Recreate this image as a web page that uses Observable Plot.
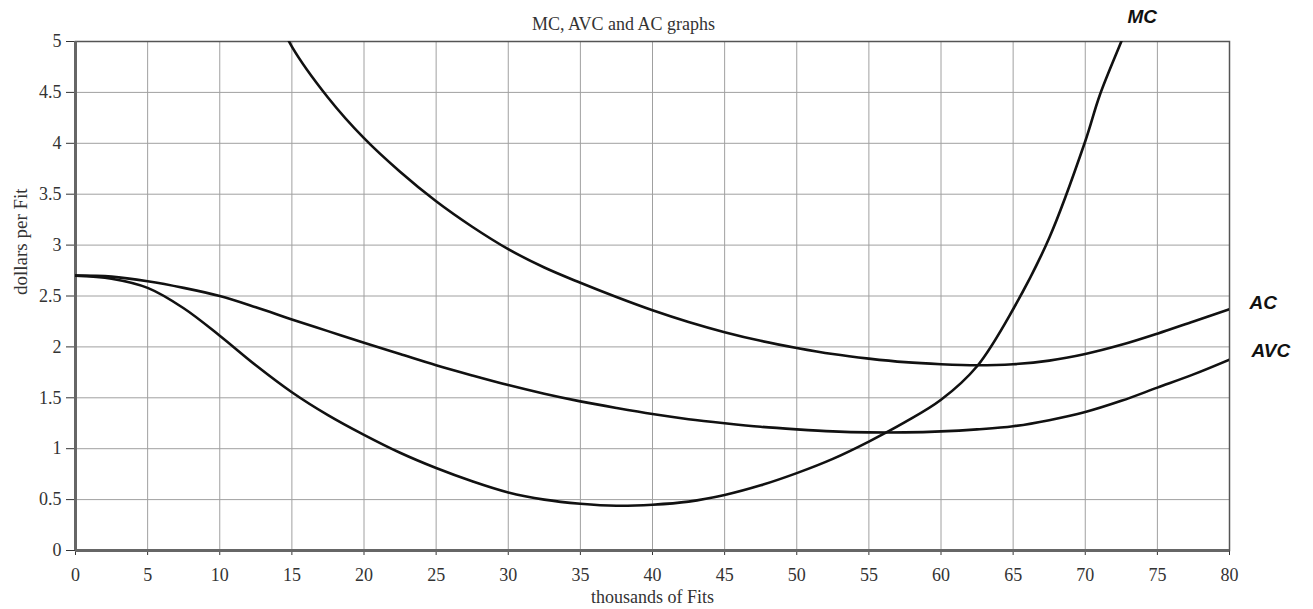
<!DOCTYPE html>
<html>
<head>
<meta charset="utf-8">
<script src="https://cdn.jsdelivr.net/npm/d3@7"></script>
<script src="https://cdn.jsdelivr.net/npm/@observablehq/plot@0.6"></script>
<style>
  html, body { margin: 0; padding: 0; background: #fff; }
  #chart svg { display: block; }
</style>
</head>
<body>
<div id="chart"></div>
<script>
// Output quantity (thousands of Fits)
const acX  = [14, 15, 17.5, 20, 22.5, 25, 27.5, 30, 32.5, 35, 37.5, 40, 42.5, 45, 47.5, 50, 52.5, 55, 57.5, 60, 62.5, 65, 67.5, 70, 72.5, 75, 77.5, 80];
const acY  = [5.25, 4.95, 4.45, 4.05, 3.72, 3.43, 3.18, 2.96, 2.78, 2.63, 2.49, 2.36, 2.245, 2.145, 2.06, 1.99, 1.93, 1.885, 1.85, 1.83, 1.82, 1.83, 1.865, 1.93, 2.02, 2.13, 2.25, 2.37];

const avcX = [0, 2.5, 5, 7.5, 10, 12.5, 15, 17.5, 20, 22.5, 25, 27.5, 30, 32.5, 35, 37.5, 40, 42.5, 45, 47.5, 50, 52.5, 55, 57.5, 60, 62.5, 65, 67.5, 70, 72.5, 75, 77.5, 80];
const avcY = [2.7, 2.69, 2.645, 2.58, 2.5, 2.39, 2.27, 2.155, 2.04, 1.93, 1.82, 1.72, 1.625, 1.54, 1.465, 1.4, 1.34, 1.29, 1.25, 1.215, 1.19, 1.17, 1.16, 1.16, 1.17, 1.19, 1.22, 1.28, 1.36, 1.47, 1.6, 1.73, 1.875];

const mcX  = [0, 2.5, 5, 7.5, 10, 12.5, 15, 17.5, 20, 22.5, 25, 27.5, 30, 32.5, 35, 37.5, 40, 42.5, 45, 47.5, 50, 52.5, 55, 57.5, 60, 62.5, 65, 67.5, 70, 71, 72.5, 73.5];
const mcY  = [2.7, 2.67, 2.58, 2.38, 2.11, 1.82, 1.555, 1.33, 1.136, 0.96, 0.81, 0.68, 0.57, 0.5, 0.46, 0.44, 0.45, 0.48, 0.545, 0.64, 0.76, 0.9, 1.07, 1.26, 1.48, 1.81, 2.37, 3.07, 4.02, 4.47, 5.0, 5.35];

const xTicks = d3.range(0, 81, 5);
const yTicks = d3.range(0, 5.01, 0.5);

const title = "MC, AVC and AC graphs";
const xLabel = "thousands of Fits";
const yLabel = "dollars per Fit";

const toRows = (xs, ys) => xs.map((x, i) => ({x, y: ys[i]}));
const ac = toRows(acX, acY);
const avc = toRows(avcX, avcY);
const mc = toRows(mcX, mcY);

const serif = "'Liberation Serif', 'Times New Roman', serif";
const sans = "'Liberation Sans', Arial, sans-serif";

const chart = Plot.plot({
  width: 1313,
  height: 609,
  marginLeft: 75,
  marginRight: 84,
  marginTop: 41,
  marginBottom: 59,
  style: {fontFamily: serif, fontSize: "18px", color: "#333", background: "#fff"},
  x: {domain: [0, 80], ticks: xTicks, tickSize: 5, tickPadding: 13, tickFormat: d => String(d), label: null},
  y: {domain: [0, 5], ticks: yTicks, tickSize: 9, tickPadding: 5, tickFormat: d => String(d), label: null},
  marks: [
    Plot.gridX(xTicks, {stroke: "#a0a0a0", strokeOpacity: 1, strokeWidth: 1}),
    Plot.gridY(yTicks, {stroke: "#a0a0a0", strokeOpacity: 1, strokeWidth: 1}),
    Plot.frame({stroke: "#555", strokeWidth: 1.5}),
    Plot.ruleX([0], {stroke: "#666", strokeWidth: 3}),
    Plot.ruleY([0], {stroke: "#666", strokeWidth: 3}),
    Plot.line(ac, {x: "x", y: "y", curve: "catmull-rom", stroke: "#111", strokeWidth: 2.6, clip: true}),
    Plot.line(avc, {x: "x", y: "y", curve: "catmull-rom", stroke: "#111", strokeWidth: 2.6, clip: true}),
    Plot.line(mc, {x: "x", y: "y", curve: "catmull-rom", stroke: "#111", strokeWidth: 2.6, clip: true}),
    // series labels anchored at curve ends
    Plot.text([ac[ac.length - 1]], {x: "x", y: "y", text: () => "AC", dx: 20, dy: -6, textAnchor: "start", fontFamily: sans, fontWeight: "bold", fontStyle: "italic", fontSize: 19, fill: "#111"}),
    Plot.text([avc[avc.length - 1]], {x: "x", y: "y", text: () => "AVC", dx: 22, dy: -9, textAnchor: "start", fontFamily: sans, fontWeight: "bold", fontStyle: "italic", fontSize: 19, fill: "#111"}),
    Plot.text([mc[mc.length - 2]], {x: "x", y: "y", text: () => "MC", dx: 21, dy: -25, textAnchor: "middle", fontFamily: sans, fontWeight: "bold", fontStyle: "italic", fontSize: 19, fill: "#111"}),
    // title and axis labels
    Plot.text([title], {text: d => d, frameAnchor: "top", dy: -24, dx: -29, fontFamily: serif, fontSize: 18, fill: "#333"}),
    Plot.text([xLabel], {text: d => d, frameAnchor: "bottom", dy: 52, fontFamily: serif, fontSize: 18, fill: "#333"}),
    Plot.text([yLabel], {text: d => d, frameAnchor: "left", dx: -55, dy: -1, rotate: -90, fontFamily: serif, fontSize: 19, fill: "#333"})
  ]
});

document.getElementById("chart").appendChild(chart);
</script>
</body>
</html>
